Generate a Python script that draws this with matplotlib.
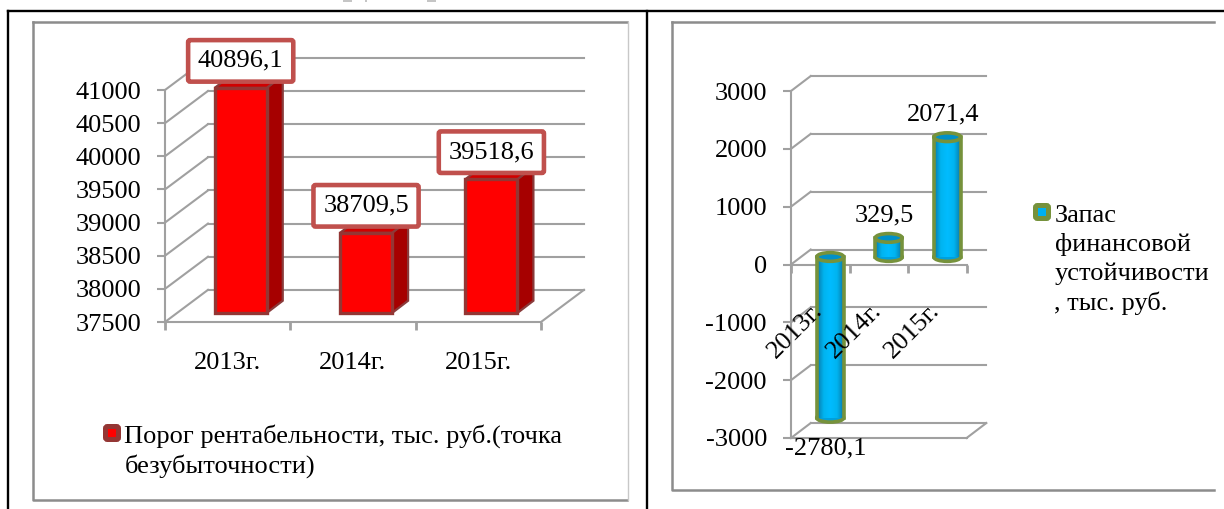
import numpy as np
import matplotlib
matplotlib.use("Agg")
import matplotlib.pyplot as plt
from matplotlib.colors import LinearSegmentedColormap
from matplotlib.patches import Polygon, Ellipse, FancyBboxPatch
from matplotlib.transforms import ScaledTranslation

plt.rcParams['font.family'] = ['Liberation Serif', 'DejaVu Serif']
plt.rcParams['axes.unicode_minus'] = False

W, H = 1224, 509
FS = 19
GRID = '#a0a0a0'
px = 72 / 100  # points per pixel at dpi 100

years = ['2013г.', '2014г.', '2015г.']

# left chart
threshold = [40896.1, 38709.5, 39518.6]
threshold_labels = ['40896,1', '38709,5', '39518,6']
threshold_ticks = [37500, 38000, 38500, 39000, 39500, 40000, 40500, 41000]
threshold_name = 'Порог рентабельности, тыс. руб.(точка\nбезубыточности)'

# right chart
reserve = [-2780.1, 329.5, 2071.4]
reserve_labels = ['-2780,1', '329,5', '2071,4']
reserve_ticks = [-3000, -2000, -1000, 0, 1000, 2000, 3000]
reserve_name = 'Запас\nфинансовой\nустойчивости\n, тыс. руб.'


def make_axes(fig, x0, x1, top, bottom):
    return fig.add_axes([x0 / W, 1 - bottom / H, (x1 - x0) / W, (bottom - top) / H], facecolor='none')


def walls(ax, ticks, dx, dy, nx=3):
    # gridlines on the back wall plus the slanted bits on the left wall
    for t in ticks:
        ax.plot([0, dx], [t, t + dy], color=GRID, lw=1.5, clip_on=False, zorder=1)
        ax.plot([dx, nx + dx], [t + dy, t + dy], color=GRID, lw=1.5, clip_on=False, zorder=1)
    ax.plot([nx, nx + dx], [ticks[0], ticks[0] + dy], color=GRID, lw=1.5, clip_on=False, zorder=1)


def style_axes(ax):
    for s in ['top', 'right']:
        ax.spines[s].set_visible(False)
    for s in ['left', 'bottom']:
        ax.spines[s].set_color(GRID)
        ax.spines[s].set_linewidth(1.5)
    ax.set_xticks([0, 1, 2, 3])
    ax.set_xticklabels([])
    ax.set_xticks([0.5, 1.5, 2.5], minor=True)
    ax.tick_params(axis='x', which='major', length=8 * px, width=2, color=GRID)
    ax.tick_params(axis='y', length=8 * px, width=1.5, color=GRID, pad=16 * px, labelsize=FS)


def swatch(bg, x, y, face, edge):
    bg.add_patch(FancyBboxPatch((x - 6.5, y - 6.5), 13, 13, boxstyle='round,pad=0,rounding_size=2',
                                facecolor=face, edgecolor=edge, lw=5 * px))


fig = plt.figure(figsize=(W / 100, H / 100), dpi=100, facecolor='white')

# page table lines and chart frames
bg = fig.add_axes([0, 0, 1, 1])
bg.set_xlim(0, W)
bg.set_ylim(H, 0)
bg.axis('off')
bg.plot([8, W], [11, 11], color='black', lw=1.7)
bg.plot([8, 8], [11, H], color='black', lw=1.7)
bg.plot([647, 647], [11, H], color='black', lw=1.7)
bg.plot([33, 33, 627], [22, 500, 500], color='#8c8c8c', lw=1.8)
bg.plot([33, 627], [22, 22], color='#8c8c8c', lw=1.8)
bg.plot([628, 628], [22, 500], color='#c8c8c8', lw=1)
bg.plot([672, 672, 1214], [22, 490, 490], color='#8c8c8c', lw=1.8)
bg.plot([672, 1214], [22, 22], color='#8c8c8c', lw=1.8)
# cut off descenders of the heading above the table
for a, b in [(343, 352), (365, 367), (427, 436)]:
    bg.plot([a, b], [0.5, 0.5], color='#c4c4c4', lw=1.4, solid_capstyle='butt')

# left chart: 3D look columns
ax = make_axes(fig, 165, 541, 90, 322)
ax.set_xlim(0, 3)
ax.set_ylim(37500, 41000)
style_axes(ax)
ax.set_yticks(threshold_ticks)
ax.tick_params(axis='x', which='minor', length=0, pad=30 * px, labelsize=FS)
ax.set_xticklabels(years, minor=True)
walls(ax, threshold_ticks, 0.343, 485)

bw = 0.415
xoff, yoff = 0.104, 136
sx, sy = 0.128, 185
for i, v in enumerate(threshold):
    xl, xr = i + xoff + 0.5 - bw / 2, i + xoff + 0.5 + bw / 2
    y0, y1 = 37500 + yoff, v + yoff
    ax.add_patch(Polygon([(xr, y0), (xr + sx, y0 + sy), (xr + sx, y1 + sy), (xr, y1)], closed=True,
                         facecolor='#a60000', edgecolor='#8a3a3a', lw=1.6, clip_on=False, zorder=2))
    ax.add_patch(Polygon([(xl, y1), (xl + sx, y1 + sy), (xr + sx, y1 + sy), (xr, y1)], closed=True,
                         facecolor='#d00000', edgecolor='#8a3a3a', lw=1.6, clip_on=False, zorder=2))
    ax.bar(i + xoff + 0.5, v - 37500, bw, bottom=y0, color='#ff0000', edgecolor='#943634',
           linewidth=2.4, clip_on=False, zorder=3)
    ax.annotate(threshold_labels[i], (i + xoff + 0.5, y1), xytext=(0, 27 * px), textcoords='offset points',
                ha='center', va='center', fontsize=FS, zorder=6, annotation_clip=False,
                bbox=dict(boxstyle='round,pad=0.37,rounding_size=0.08', facecolor='white',
                          edgecolor='#c0504d', lw=3.3))

swatch(bg, 112, 433, '#ff0000', '#943634')
bg.text(124.5, 451, threshold_name, fontsize=FS, va='center', ha='left', linespacing=1.33)

# right chart: cylinders
ax2 = make_axes(fig, 791, 966.6, 91, 438)
ax2.set_xlim(0, 3)
ax2.set_ylim(-3000, 3000)
style_axes(ax2)
ax2.spines['bottom'].set_position(('data', 0))
ax2.xaxis.set_zorder(8)
ax2.set_yticks(reserve_ticks)
ax2.tick_params(axis='x', which='minor', length=0, pad=35 * px, labelsize=FS)
ax2.set_xticklabels(years, minor=True, rotation=45, ha='right')
shift = ScaledTranslation(7 / 100, 0, fig.dpi_scale_trans)
for lab in ax2.get_xticklabels(minor=True):
    lab.set_transform(lab.get_transform() + shift)
walls(ax2, reserve_ticks, 0.337, 259)
ax2.plot([0, 3], [-3000, -3000], color=GRID, lw=1.5, clip_on=False, zorder=1)

shade = LinearSegmentedColormap.from_list('cyl', ['#0a78a8', '#00b4f0', '#00bcff', '#00b4f0', '#0a78a8'])
grad = np.linspace(0, 1, 64).reshape(1, -1)
cw = 0.46
cx_off, cy_off = 0.17, 130
eh = 150
olive = '#76923c'
lw_c = 2.6
for i, v in enumerate(reserve):
    cx = i + 0.5 + cx_off
    lo, hi = sorted([cy_off, v + cy_off])
    ax2.add_patch(Ellipse((cx, lo), cw, eh, facecolor='#00a0dc', edgecolor=olive, lw=lw_c, clip_on=False, zorder=3))
    ax2.imshow(grad, cmap=shade, extent=(cx - cw / 2, cx + cw / 2, lo, hi), aspect='auto', zorder=4, clip_on=False)
    ax2.plot([cx - cw / 2, cx - cw / 2], [lo, hi], color=olive, lw=lw_c, zorder=5, clip_on=False)
    ax2.plot([cx + cw / 2, cx + cw / 2], [lo, hi], color=olive, lw=lw_c, zorder=5, clip_on=False)
    ax2.add_patch(Ellipse((cx, hi), cw, eh, facecolor='#0090c8', edgecolor=olive, lw=lw_c, clip_on=False, zorder=6))
    off = 31 if v < 0 else -22.5
    y_end = lo if v < 0 else hi
    ax2.annotate(reserve_labels[i], (cx, y_end), xytext=(-4.6 * px, -off * px), textcoords='offset points',
                 ha='center', va='center', fontsize=FS, zorder=7, annotation_clip=False)
ax2.set_xlim(0, 3)
ax2.set_ylim(-3000, 3000)

swatch(bg, 1042, 212, '#00b0f0', olive)
bg.text(1054.5, 260, reserve_name, fontsize=FS, va='center', ha='left', linespacing=1.35)

fig.savefig('out.png', dpi=100)
